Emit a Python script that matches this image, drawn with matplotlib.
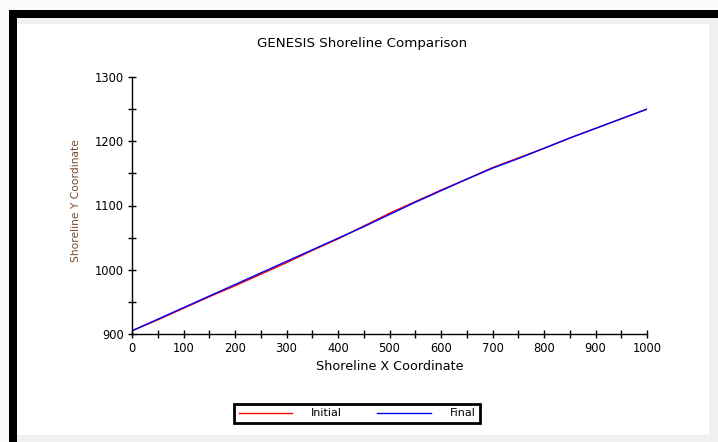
import matplotlib
matplotlib.use("Agg")
import matplotlib.pyplot as plt
from matplotlib.patches import Rectangle
from matplotlib.ticker import MultipleLocator

x_coord = [0, 50, 100, 150, 200, 250, 300, 350, 400, 450, 500,
           550, 600, 650, 700, 750, 800, 850, 900, 950, 1000]
initial_y = [905, 922, 940, 958, 975, 993, 1011, 1030, 1048, 1068, 1088,
             1106, 1124, 1141, 1159, 1174, 1189, 1205, 1220, 1235, 1250]
final_y = [905, 923, 941, 959, 977, 995, 1013, 1031, 1049, 1067, 1086,
           1105, 1123, 1141, 1158, 1173, 1189, 1205, 1220, 1235, 1250]
x_ticks = [0, 100, 200, 300, 400, 500, 600, 700, 800, 900, 1000]
y_ticks = [900, 1000, 1100, 1200, 1300]

W, H = 718, 442
fig = plt.figure(figsize=(W / 100, H / 100), dpi=100)
fig.patch.set_facecolor("#f0f0f0")


def px_rect(x0, y0, x1, y1, color, z=0):
    fig.patches.append(Rectangle((x0 / W, 1 - y1 / H), (x1 - x0) / W, (y1 - y0) / H,
                                 transform=fig.transFigure, facecolor=color,
                                 edgecolor="none", zorder=z))


# outer light area and black frame
px_rect(0, 0, W, 10, "#fafafa", 0)
px_rect(0, 0, 8.5, H, "#fafafa", 0)
px_rect(8.5, 10, W, 18, "black", 1)
px_rect(8.5, 10, 17, H, "black", 1)
# white panel
px_rect(17, 24, 709, 435, "white", 2)

ax = fig.add_axes([132 / W, 1 - 334 / H, (647 - 132) / W, (334 - 77) / H])
ax.set_zorder(3)
ax.patch.set_alpha(0)

ax.plot(x_coord, initial_y, color="#ff0000", lw=1.0, label="Initial")
ax.plot(x_coord, final_y, color="#0000ff", lw=1.0, label="Final")

ax.set_xlim(0, 1000)
ax.set_ylim(900, 1300)
ax.set_xticks(x_ticks)
ax.set_yticks(y_ticks)
ax.xaxis.set_minor_locator(MultipleLocator(50))
ax.yaxis.set_minor_locator(MultipleLocator(50))
ax.tick_params(which="both", direction="inout", length=5.5, width=1, color="black",
               labelsize=8.3, pad=3)
for s in ["top", "right"]:
    ax.spines[s].set_visible(False)
for s in ["left", "bottom"]:
    ax.spines[s].set_linewidth(1)

fig.text(362 / W, 1 - 44 / H, "GENESIS Shoreline Comparison", ha="center", va="center",
         fontsize=9.6, zorder=5)
fig.text(390 / W, 1 - 366 / H, "Shoreline X Coordinate", ha="center", va="center",
         fontsize=9.2, zorder=5)
fig.text(76 / W, 1 - 201 / H, "Shoreline Y Coordinate", ha="center", va="center",
         rotation=90, fontsize=7.7, color="#7a4a2a", zorder=5)

leg = fig.legend(loc="center", bbox_to_anchor=(357 / W, 1 - 413.5 / H), ncol=2,
                 fontsize=8, frameon=True, fancybox=False, handlelength=4.8,
                 handletextpad=1.7, columnspacing=3.2, borderpad=0.38,
                 borderaxespad=0, framealpha=1)
leg.get_frame().set_edgecolor("black")
leg.get_frame().set_linewidth(2)
leg.get_frame().set_facecolor("white")
leg.set_zorder(6)

fig.savefig("out.png", dpi=100, facecolor=fig.get_facecolor())
